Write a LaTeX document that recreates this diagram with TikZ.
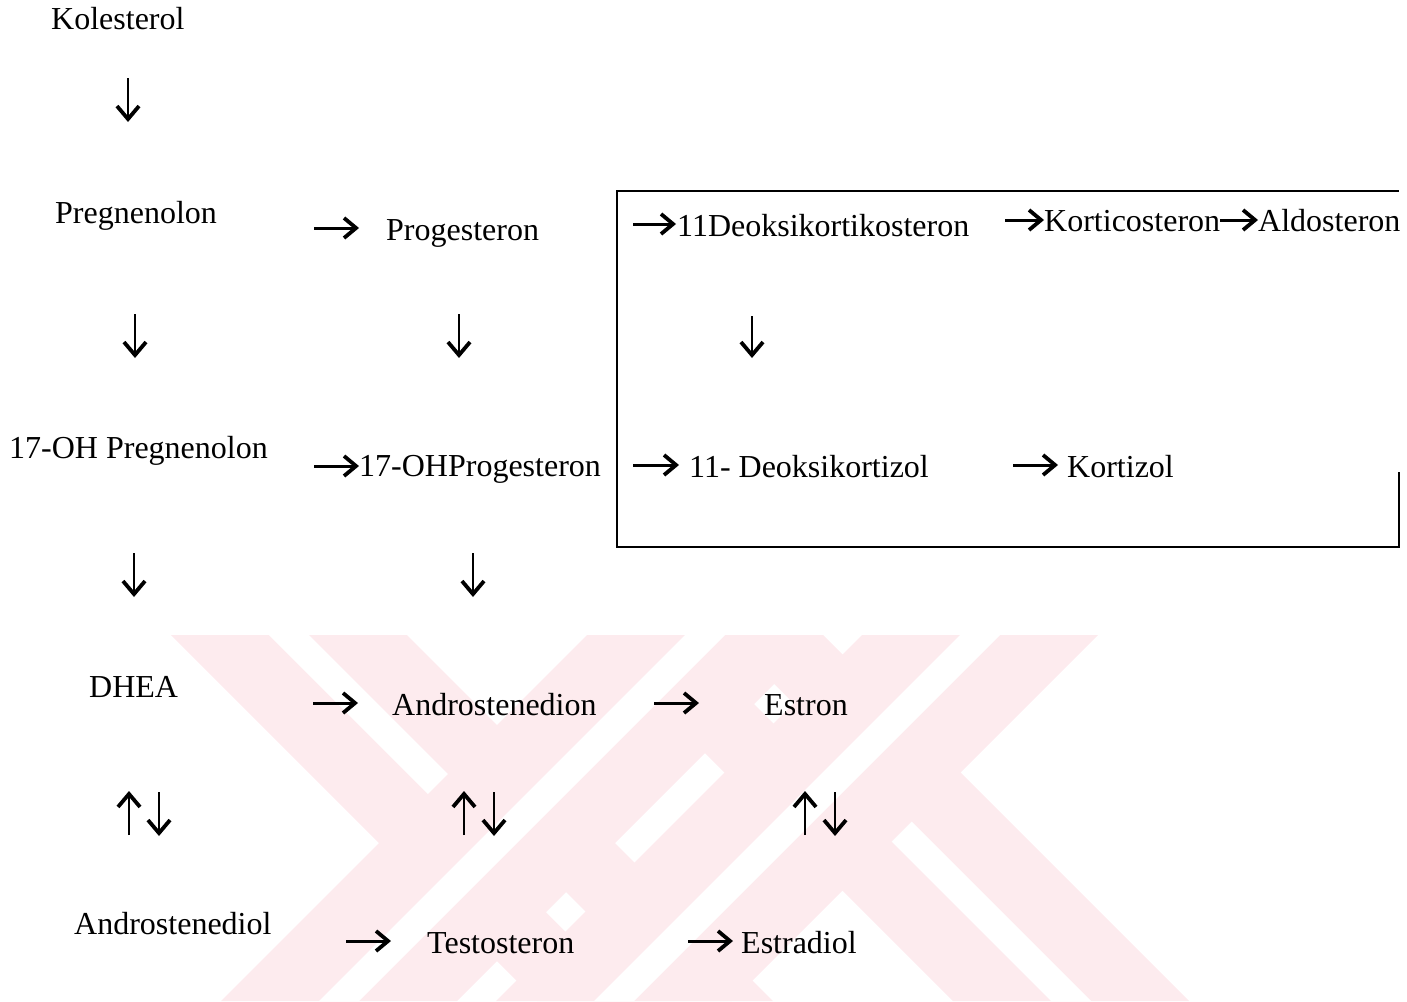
\documentclass[tikz,border=0pt]{standalone}
\usepackage{fontspec}
\setmainfont{Liberation Serif}
\usetikzlibrary{arrows.meta}
\definecolor{wm}{RGB}{253,235,238}
\begin{document}
\begin{tikzpicture}[x=1pt,y=-1pt,
  lbl/.style={inner sep=0pt, anchor=base west, font=\fontsize{32}{38}\selectfont},
  harr/.style={line width=3pt, -{Straight Barb[length=12pt,width=20pt,line width=3.8pt]}},
  varr/.style={line width=2.1pt, -{Straight Barb[length=13pt,width=22pt,line width=3.8pt]}},
  boxline/.style={line width=1.8pt}]
\useasboundingbox (0,0) rectangle (1407,1001);
% watermark (pale pink double bands)
\def\wmw{118}\def\wms{20}
\foreach \c/\d in {289/1, 705/1, 705/-1, 980/-1} {
  \fill[wm] ({\c-\wmw},635) -- ({\c+\wmw},635) -- ({\c+\wmw+\d*366},1001) -- ({\c-\wmw+\d*366},1001) -- cycle;
  \fill[white] ({\c-\wms},635) -- ({\c+\wms},635) -- ({\c+\wms+\d*366},1001) -- ({\c-\wms+\d*366},1001) -- cycle;
}
% box
\draw[boxline] (1399,472) -- (1399,547) -- (617,547) -- (617,191) -- (1399,191);
% labels
\node[lbl] (kol) at (51,29) {Kolesterol};
\node[lbl] (preg) at (55,223) {Pregnenolon};
\node[lbl] (prog) at (386,240) {Progesteron};
\node[lbl] (ohpreg) at (9,458) {17-OH Pregnenolon};
\node[lbl] (ohprog) at (359,476) {17-OHProgesteron};
\node[lbl] (doc) at (677,236) {11Deoksikortikosteron};
\node[lbl] (kortico) at (1044,231) {Korticosteron};
\node[lbl] (aldo) at (1258,231) {Aldosteron};
\node[lbl] (deokort) at (689,477) {11- Deoksikortizol};
\node[lbl] (kortizol) at (1067,477) {Kortizol};
\node[lbl] (dhea) at (89,697) {DHEA};
\node[lbl] (andro) at (392,715) {Androstenedion};
\node[lbl] (estron) at (764,715) {Estron};
\node[lbl] (adiol) at (74,934) {Androstenediol};
\node[lbl] (testo) at (427,953) {Testosteron};
\node[lbl] (estradiol) at (741,953) {Estradiol};
% vertical arrows
\foreach \n/\xa/\ya/\xb/\yb in {
  va/128/78/128/122, vb/135/314/135/358, vc/459/314/459/358, vd/752/316/752/358,
  ve/134/553/134/597, vf/473/553/473/597,
  ua/129/835/129/791, da/159/792/159/836,
  ub/464/835/464/791, db/494/792/494/836,
  uc/805/835/805/791, dc/835/792/835/836} {
  \coordinate (\n-s) at (\xa,\ya);
  \coordinate (\n-e) at (\xb,\yb);
  \draw[varr] (\n-s) -- (\n-e);
}
% horizontal arrows
\foreach \n/\xa/\ya/\xb/\yb in {
  ha/314/228/359/228, hb/314/466/359/466, hc/633/224/676/224,
  hd/1005/220/1044/220, he/1220/220/1258/220, hf/633/465/679/465,
  hg/1013/465/1058/465, hh/313/703/358/703, hi/654/703/699/703,
  hj/346/941/391/941, hk/688/941/733/941} {
  \coordinate (\n-s) at (\xa,\ya);
  \coordinate (\n-e) at (\xb,\yb);
  \draw[harr] (\n-s) -- (\n-e);
}
\end{tikzpicture}
\end{document}
